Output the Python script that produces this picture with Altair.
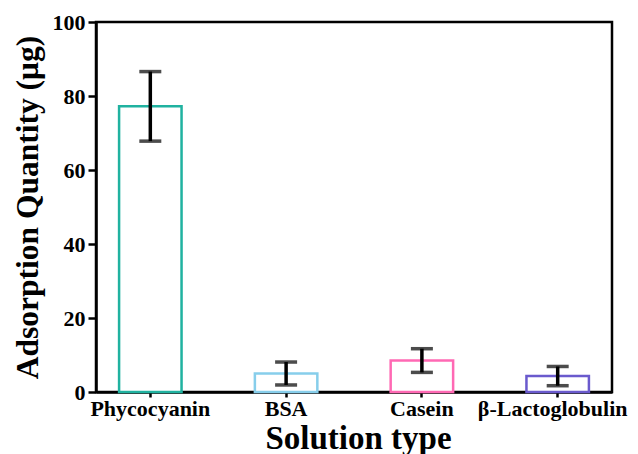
import altair as alt
import pandas as pd

categories = ["Phycocyanin", "BSA", "Casein", "β-Lactoglobulin"]
means = [77.2, 5.0, 8.5, 4.3]
errors = [9.4, 3.1, 3.2, 2.6]
colors = ["#20B2A0", "#87CEEB", "#FF69B4", "#6A5ACD"]
y_ticks = [0, 20, 40, 60, 80, 100]

df = pd.DataFrame({"cat": categories, "mean": means, "err": errors})
df["lo"] = df["mean"] - df["err"]
df["hi"] = df["mean"] + df["err"]

FONT = "Liberation Serif"

xenc = alt.X(
    "cat:N",
    sort=categories,
    scale=alt.Scale(paddingInner=0.54, paddingOuter=0.17),
    axis=alt.Axis(
        title="Solution type",
        labelAngle=0,
        labelFont=FONT, labelFontSize=22, labelFontWeight="bold", labelColor="black",
        labelBaseline="top", labelPadding=1,
        labelOffset={"condition": {"test": "datum.value == 'β-Lactoglobulin'", "value": -5}, "value": 0},
        tickSize=5, tickWidth=2.5, tickColor="black",
        domainColor="black", domainWidth=2.5,
        titleFont=FONT, titleFontSize=33, titleFontWeight="bold", titleColor="black",
        titleBaseline="alphabetic", titleY=56, titleX=262,
    ),
)

base = alt.Chart(df)

bars = base.mark_bar(fill="white", strokeWidth=2.5).encode(
    x=xenc,
    y=alt.Y(
        "mean:Q",
        scale=alt.Scale(domain=[0, 100], nice=False),
        axis=alt.Axis(
            title="Adsorption Quantity (μg)",
            values=y_ticks, grid=False,
            labelFont=FONT, labelFontSize=22, labelFontWeight="bold", labelColor="black",
            labelPadding=3, tickSize=8, tickWidth=2.5, tickColor="black",
            domainColor="black", domainWidth=2.5,
            titleFont=FONT, titleFontSize=31.5, titleFontWeight="bold", titleColor="black",
            titleAngle=-90, titleX=-68, titleY=185, titleAlign="center", titleBaseline="middle",
        ),
    ),
    stroke=alt.Stroke("cat:N", scale=alt.Scale(domain=categories, range=colors), legend=None),
)

rules = base.mark_rule(color="black", strokeWidth=3.5).encode(
    x=alt.X("cat:N", sort=categories),
    y="lo:Q",
    y2="hi:Q",
)

caps_hi = base.mark_tick(color="black", thickness=3.5, size=22, orient="horizontal").encode(
    x=alt.X("cat:N", sort=categories), y="hi:Q"
)
caps_lo = base.mark_tick(color="black", thickness=3.5, size=22, orient="horizontal").encode(
    x=alt.X("cat:N", sort=categories), y="lo:Q"
)

chart = (
    alt.layer(bars, rules, caps_hi, caps_lo)
    .properties(
        width=516,
        height=370,
        autosize=alt.AutoSizeParams(type="none"),
        padding={"left": 88, "top": 14, "right": 18, "bottom": 62},
        background="white",
    )
    .configure_view(stroke="black", strokeWidth=2.5)
)

chart.save("out.html", embed_options={"renderer": "svg", "actions": False})
